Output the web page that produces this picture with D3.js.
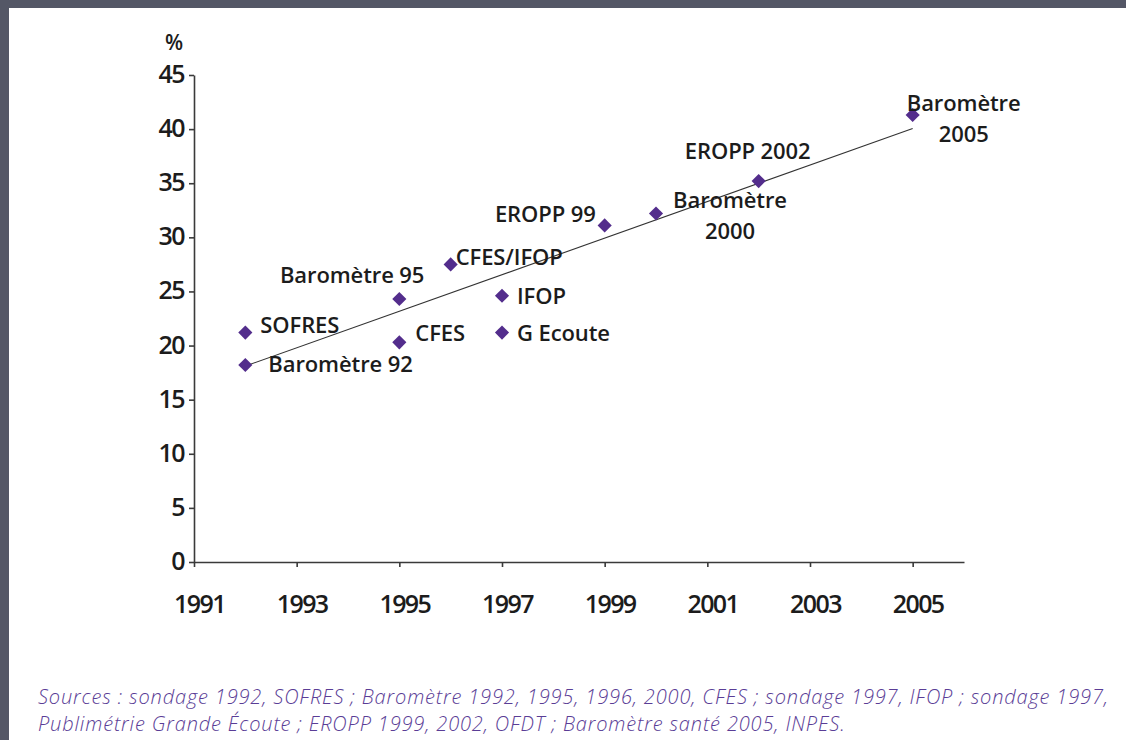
<!DOCTYPE html>
<html>
<head>
<meta charset="utf-8">
<script src="https://cdn.jsdelivr.net/npm/d3@7"></script>
<style>
  body { margin: 0; background: #545766; }
  .axis path, .axis line { stroke: #3a3a3a; stroke-width: 1.6px; }
  .axis text { font-family: "Open Sans", sans-serif; font-weight: 600; font-size: 25px; letter-spacing: -1.6px; fill: #1c1c1c; }
  .label { font-family: "Open Sans", sans-serif; font-weight: 600; font-size: 22px; letter-spacing: -0.1px; fill: #1c1c1c; }
  .source { font-family: "Open Sans", sans-serif; font-style: italic; font-weight: 300; font-size: 20px; letter-spacing: 0.85px; fill: #5a3d96; }
</style>
</head>
<body>
<script>
// Prévalence par enquête (%)
var years = [1992, 1992, 1995, 1995, 1996, 1997, 1997, 1999, 2000, 2002, 2005];
var values = [18.2, 21.2, 24.3, 20.3, 27.5, 24.6, 21.2, 31.1, 32.2, 35.2, 41.3];
var surveys = ["Baromètre 92", "SOFRES", "Baromètre 95", "CFES", "CFES/IFOP", "IFOP",
  "G Ecoute", "EROPP 99", "Baromètre\n2000", "EROPP 2002", "Baromètre\n2005"];

var xTicks = [1991, 1993, 1995, 1997, 1999, 2001, 2003, 2005];
var yTicks = [0, 5, 10, 15, 20, 25, 30, 35, 40, 45];

var sourceLines = [
  "Sources : sondage 1992, SOFRES ; Baromètre 1992, 1995, 1996, 2000, CFES ; sondage 1997, IFOP ; sondage 1997,",
  "Publimétrie Grande Écoute ; EROPP 1999, 2002, OFDT ; Baromètre santé 2005, INPES."
];

// Label placement relative to each marker (dx, dy, anchor)
var labelPlace = [
  [23, 7, "start"], [15, 0, "start"], [25, -16, "end"], [16, -1, "start"],
  [5, 1, "start"], [15, 8, "start"], [15, 8, "start"], [-9, -3, "end"],
  [74, -6, "middle"], [-11, -22, "middle"], [51, -4, "middle"]
];

var W = 1126, H = 740;

var svg = d3.select("body")
  .append("svg")
  .attr("width", W)
  .attr("height", H);

// panel
svg.append("rect")
  .attr("width", W).attr("height", H)
  .attr("fill", "#545766");
svg.append("rect")
  .attr("x", 9).attr("y", 8)
  .attr("width", W - 9).attr("height", H - 8)
  .attr("fill", "#ffffff");

// scales
var x = d3.scaleLinear().domain([1991, 2006]).range([194, 964]);
var y = d3.scaleLinear().domain([0, 45]).range([562, 75]);

var xAxis = d3.axisBottom(x).tickValues(xTicks).tickSize(5).tickSizeOuter(0)
  .tickFormat(d3.format("d"));
var yAxis = d3.axisLeft(y).tickValues(yTicks).tickSize(5).tickSizeOuter(0);

svg.append("g")
  .attr("class", "x axis")
  .attr("transform", "translate(0," + y(0) + ")")
  .call(xAxis)
  .selectAll("text")
  .attr("dx", 5)
  .attr("y", 51)
  .attr("dy", 0);

svg.append("g")
  .attr("class", "y axis")
  .attr("transform", "translate(" + x(1991) + ",0)")
  .call(yAxis)
  .selectAll("text")
  .attr("x", -10)
  .attr("dy", "0.3em");

svg.append("text")
  .attr("class", "label")
  .attr("x", 174)
  .attr("y", 50)
  .attr("text-anchor", "middle")
  .style("font-size", "21px")
  .text("%");

// trend line (least squares, like the spreadsheet trendline)
var mx = d3.mean(years), my = d3.mean(values);
var sxy = d3.sum(years, function(d, i) { return (d - mx) * (values[i] - my); });
var sxx = d3.sum(years, function(d) { return (d - mx) * (d - mx); });
var slope = sxy / sxx, icpt = my - slope * mx;
var trendX = d3.extent(years);

svg.append("line")
  .attr("x1", x(trendX[0])).attr("y1", y(icpt + slope * trendX[0]))
  .attr("x2", x(trendX[1])).attr("y2", y(icpt + slope * trendX[1]))
  .attr("stroke", "#333")
  .attr("stroke-width", 1.1);

// markers
var diamond = d3.symbol().type(d3.symbolSquare).size(100);
svg.selectAll(".pt")
  .data(years)
  .enter().append("path")
  .attr("class", "pt")
  .attr("d", diamond)
  .attr("fill", "#532d8c")
  .attr("transform", function(d, i) {
    return "translate(" + x(d) + "," + y(values[i]) + ") rotate(45)";
  });

// point labels
var lab = svg.selectAll(".label.pt-lab")
  .data(surveys)
  .enter().append("text")
  .attr("class", "label pt-lab")
  .attr("text-anchor", function(d, i) { return labelPlace[i][2]; })
  .attr("transform", function(d, i) {
    return "translate(" + (x(years[i]) + labelPlace[i][0]) + "," + (y(values[i]) + labelPlace[i][1]) + ")";
  });

lab.each(function(d) {
  var t = d3.select(this);
  d.split("\n").forEach(function(line, k) {
    t.append("tspan").attr("x", 0).attr("y", k * 31).text(line);
  });
});

// sources
svg.selectAll(".source")
  .data(sourceLines)
  .enter().append("text")
  .attr("class", "source")
  .attr("x", 38)
  .attr("y", function(d, i) { return 704 + i * 27; })
  .text(function(d) { return d; });
</script>
</body>
</html>
